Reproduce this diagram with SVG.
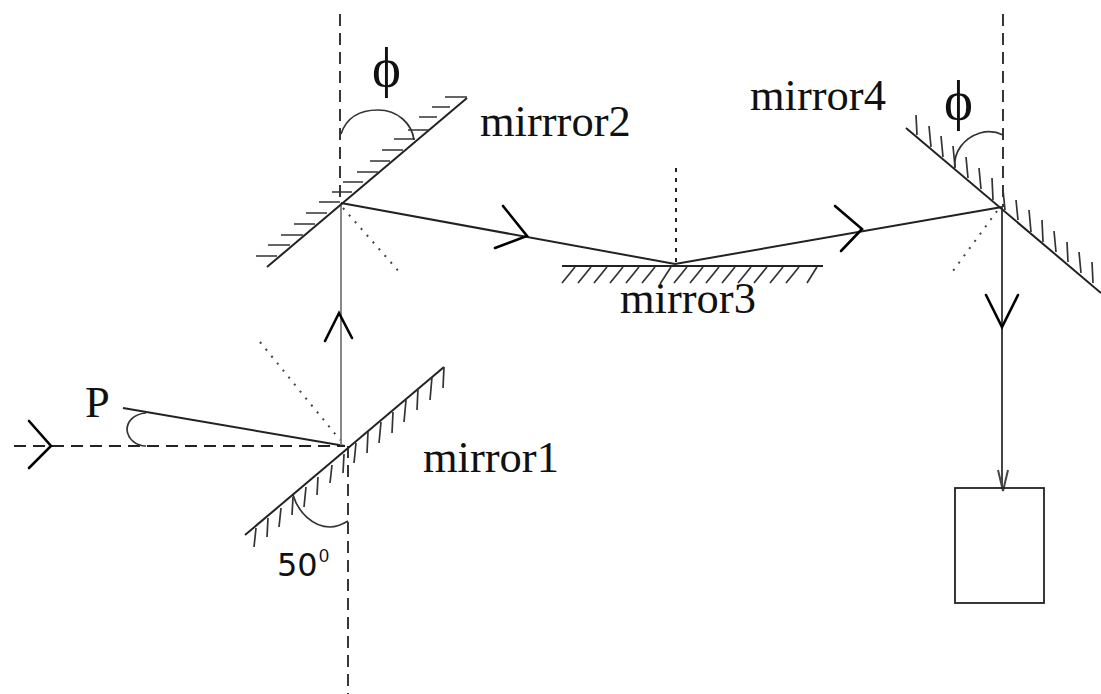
<svg xmlns="http://www.w3.org/2000/svg" width="1101" height="694" viewBox="0 0 1101 694">
<style>
.l{fill:none;stroke:#222;stroke-width:2}
.m{fill:none;stroke:#333;stroke-width:1.7}
.h{fill:none;stroke:#000;stroke-width:2.6;stroke-linecap:round;stroke-linejoin:miter}
.d{fill:none;stroke:#222;stroke-width:1.8;stroke-dasharray:12 7}
.o{fill:none;stroke:#444;stroke-width:2;stroke-dasharray:2 7}
.v{fill:none;stroke:#222;stroke-width:2;stroke-dasharray:4 6}
.t{font-family:"Liberation Serif",serif;font-size:44.5px;fill:#111}
.f{font-family:"Liberation Serif",serif;font-size:55px;fill:#111}
</style>
<rect width="1101" height="694" fill="#fff"/>
<g id="connectors">
<path class="d" d="M14 446H345"/>
<path class="d" d="M348 446V694"/>
<path class="d" d="M340 14V203"/>
<path class="d" d="M1003 14V207"/>
<path class="l" d="M123 408L345 446"/>
<path d="M341 445V203" fill="none" stroke="#888" stroke-width="2"/>
<path class="l" d="M341 203L675 264L1002 207"/>
<path d="M1002 207V488" fill="none" stroke="#444" stroke-width="2"/>
<path class="o" d="M260 342L340 440"/>
<path class="o" d="M343 208L402 275"/>
<path class="v" d="M676 168V264"/>
<path class="o" d="M997 211L950 275"/>
<path class="m" d="M341 134C347 116 362 110 378 110C398 110 412 124 414 140"/>
<path class="m" d="M1003 135C995 131 987 131 980 133C964 138 953 152 955 168"/>
<path class="m" d="M293 495C298 512 313 527 330 527C338 527 343 524 348 521"/>
<path class="m" d="M146 413C133 414 127 422 127 430C128 439 136 446 146 446"/>
</g>
<g id="arrowheads">
<path class="h" d="M29 421L51 446L29 468"/>
<path class="h" d="M325 341L339 313L352 338"/>
<path class="h" d="M503 206L527 236L495 248"/>
<path class="h" d="M835 206L862 229L841 251"/>
<path class="h" d="M986 295L1002 327L1018 295"/>
<path fill="none" stroke="#444" stroke-width="2" d="M998 470L1003 491L1008 470"/>
</g>
<g id="mirror1">
<path class="l" d="M245 535L444 367"/>
<path class="m" d="M444 367L443 388M432 377L430 400M418 388L417 410M406 400L404 422M393 412L392 433M381 422L379 443M368 432L367 453M356 443L354 463M344 454L343 473M332 465L330 483M318 477L317 495M306 487L304 507M293 497L292 515M281 508L279 527M268 518L267 537M256 528L254 547"/>
<text class="t" x="423" y="472">mirror1</text>
</g>
<g id="mirror2">
<path class="l" d="M267 267L467 98"/>
<path class="m" d="M467 97H445M450 107H432M437 117H419M430 130H408M415 139H394M403 150H382M390 161H370M378 172H357M363 182H343M352 192H332M340 202H319M327 213H306M315 224H294M303 235H281M290 245H268M277 256H256"/>
<text class="t" x="480" y="136">mirrror2</text>
<text class="f" x="372" y="86">ϕ</text>
</g>
<g id="mirror3">
<path class="l" d="M562 266H823"/>
<path class="m" d="M575 267L562 283M591 267L578 283M607 267L594 283M623 267L610 283M639 267L626 283M655 267L642 283M671 267L660 284M687 267L674 283M703 267L690 283M719 267L706 283M735 267L722 283M751 267L738 283M767 267L754 283M783 267L770 283M799 267L786 283M817 267L807 283"/>
<text class="t" x="620" y="313">mirror3</text>
</g>
<g id="mirror4">
<path class="l" d="M906 128L1101 293"/>
<path class="m" d="M916 115L917 135M929 126L931 147M941 136L943 157M953 146L955 167M966 157L968 178M979 168L981 189M992 178L993 200M1003 190L1005 210M1016 200L1018 220M1029 210L1031 232M1042 220L1043 242M1054 231L1056 252M1067 242L1068 262M1079 252L1081 273M1092 262L1093 283"/>
<text class="t" x="750" y="110">mirror4</text>
<text class="f" x="944" y="119">ϕ</text>
</g>
<g id="label-p"><text class="t" x="85" y="417">P</text></g>
<g id="label-50">
<text x="277" y="576" font-family="'DejaVu Sans',sans-serif" font-size="32" fill="#111">50</text>
<text x="319" y="562" font-family="'Liberation Sans',sans-serif" font-size="18" fill="#111">0</text>
</g>
<g id="box"><rect x="955" y="488" width="89" height="115" fill="none" stroke="#222" stroke-width="1.8"/></g>
</svg>
